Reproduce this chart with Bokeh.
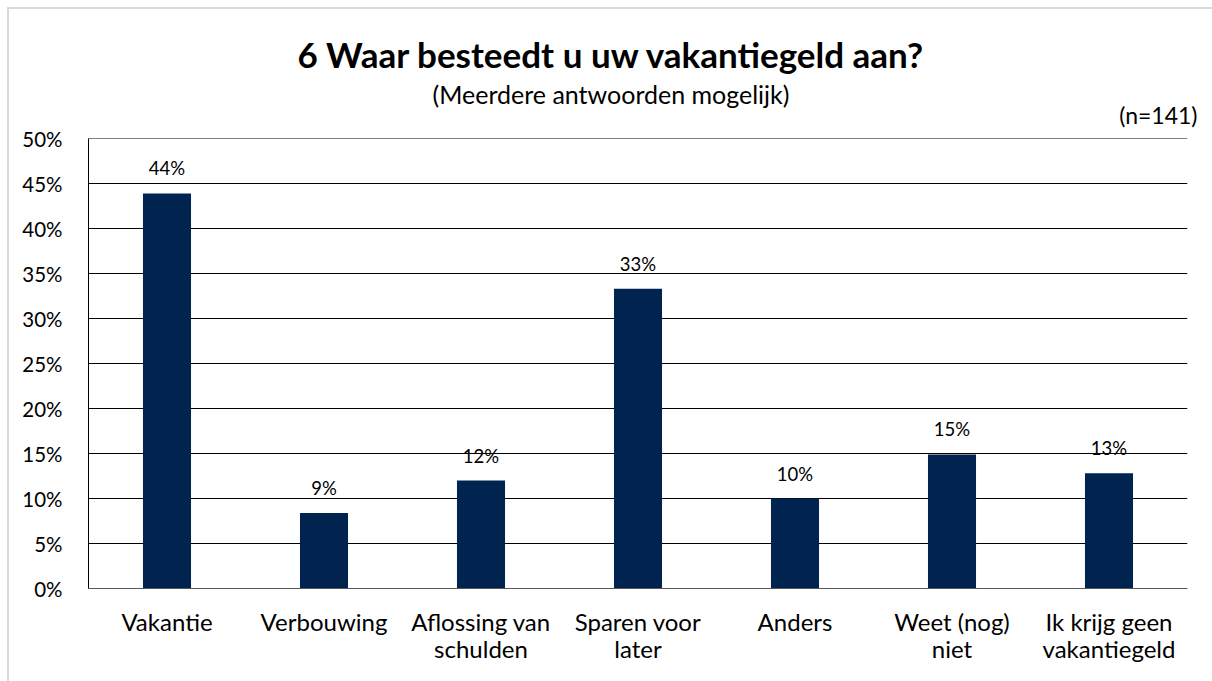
from bokeh.plotting import figure
from bokeh.models import ColumnDataSource, Title, FixedTicker, Span, InlineStyleSheet
from bokeh.embed import file_html
from bokeh.resources import INLINE

categories = ["Vakantie", "Verbouwing", "Aflossing van\nschulden", "Sparen voor\nlater",
              "Anders", "Weet (nog)\nniet", "Ik krijg geen\nvakantiegeld"]
values = [43.9, 8.4, 12.0, 33.3, 10.0, 14.9, 12.8]
value_labels = ["44%", "9%", "12%", "33%", "10%", "15%", "13%"]
y_ticks = [0, 5, 10, 15, 20, 25, 30, 35, 40, 45, 50]

FONT = "Lato"
W, H = 1212, 681
L, R, T, B = 88, 25, 138, 93

src = ColumnDataSource(dict(cat=categories, val=values, lab=value_labels))

p = figure(x_range=categories, y_range=(0, 50), width=W, height=H, title=None,
           output_backend="svg", toolbar_location=None,
           min_border_left=L, min_border_right=R, min_border_top=T, min_border_bottom=B)
p.outline_line_color = None
p.background_fill_color = "white"
p.border_fill_color = "white"
p.stylesheets = [InlineStyleSheet(css=":host::after { content: ''; position: absolute; left: 7px; top: 7px; "
                                      "width: 1300px; height: 800px; border: 2px solid #d9d9d9; "
                                      "pointer-events: none; box-sizing: border-box; }")]

p.vbar(x="cat", top="val", width=0.306, source=src, fill_color="#002350", line_color=None)
p.text(x="cat", y="val", text="lab", source=src, text_align="center", text_baseline="bottom",
       y_offset=-14, text_font_size="18.5px", text_color="#000000",
       text_font={"value": FONT})

p.xgrid.grid_line_color = None
p.ygrid.grid_line_color = "#000000"
p.ygrid.grid_line_width = 1
p.add_layout(Span(location=50, dimension="width", line_color="#000000", line_width=1))
p.yaxis.ticker = FixedTicker(ticks=y_ticks)
p.yaxis.major_label_overrides = {t: f"{t}%" for t in y_ticks}
p.yaxis.major_tick_line_color = None
p.yaxis.minor_tick_line_color = None
p.yaxis.axis_line_color = "#000000"
p.yaxis.major_label_text_font = FONT
p.yaxis.major_label_text_font_size = "20.5px"
p.yaxis.major_label_text_color = "#000000"
p.yaxis.major_label_standoff = 20

p.xaxis.major_tick_line_color = None
p.xaxis.axis_line_color = "#595959"
p.xaxis.major_label_text_font = FONT
p.xaxis.major_label_text_font_size = "24px"
p.xaxis.major_label_text_line_height = 0.95
p.xaxis.major_label_text_color = "#000000"
p.xaxis.major_label_standoff = 12

p.add_layout(Title(text="(n=141)", align="right", offset=-10, standoff=20,
                   text_font=FONT, text_font_size="23px", text_font_style="normal",
                   text_color="#000000"), "above")
p.add_layout(Title(text="(Meerdere antwoorden mogelijk)", align="left", offset=344, standoff=-40,
                   text_font=FONT, text_font_size="25px", text_font_style="normal",
                   text_color="#000000"), "above")
p.add_layout(Title(text="6 Waar besteedt u uw vakantiegeld aan?", align="left", offset=209, standoff=28,
                   text_font=FONT, text_font_size="35px", text_font_style="bold",
                   text_color="#000000"), "above")

open("out.html", "w").write(file_html(p, INLINE))
